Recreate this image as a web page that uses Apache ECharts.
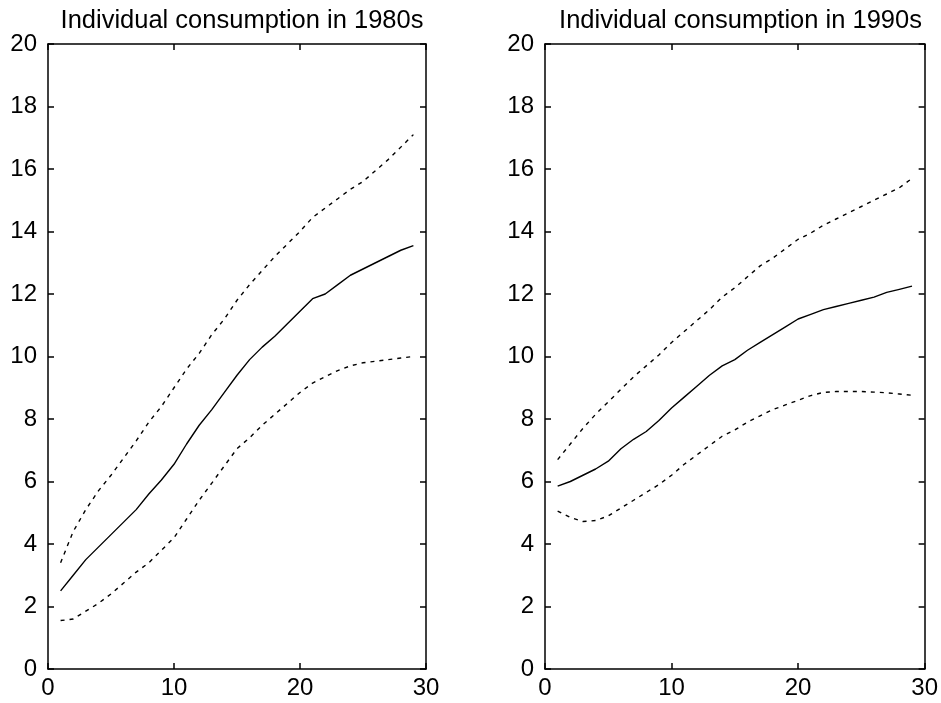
<!DOCTYPE html>
<html>
<head>
<meta charset="utf-8">
<script src="https://cdn.jsdelivr.net/npm/echarts@6/dist/echarts.min.js"></script>
<style>
html,body{margin:0;padding:0;background:#fff;}
#chart{width:941px;height:703px;}
</style>
</head>
<body>
<div id="chart"></div>
<script>
var titles = ['Individual consumption in 1980s', 'Individual consumption in 1990s'];
var xTicks = [0, 10, 20, 30];
var yTicks = [0, 2, 4, 6, 8, 10, 12, 14, 16, 18, 20];
var periods = [1,2,3,4,5,6,7,8,9,10,11,12,13,14,15,16,17,18,19,20,21,22,23,24,25,26,27,28,29];

var mid80 = [2.5,3.0,3.5,3.9,4.3,4.7,5.1,5.6,6.05,6.55,7.2,7.8,8.3,8.85,9.4,9.9,10.3,10.65,11.05,11.45,11.85,12.0,12.3,12.6,12.8,13.0,13.2,13.4,13.55];
var up80  = [3.4,4.4,5.1,5.7,6.2,6.75,7.3,7.9,8.4,9.0,9.6,10.1,10.7,11.2,11.8,12.3,12.75,13.2,13.6,14.0,14.45,14.75,15.05,15.35,15.6,15.95,16.3,16.7,17.1];
var low80 = [1.55,1.6,1.85,2.1,2.4,2.75,3.1,3.4,3.8,4.2,4.8,5.4,5.95,6.5,7.05,7.4,7.8,8.15,8.5,8.85,9.15,9.35,9.55,9.7,9.8,9.85,9.9,9.95,10.0];

var mid90 = [5.85,6.0,6.2,6.4,6.65,7.05,7.35,7.6,7.95,8.35,8.7,9.05,9.4,9.7,9.9,10.2,10.45,10.7,10.95,11.2,11.35,11.5,11.6,11.7,11.8,11.9,12.05,12.15,12.25];
var up90  = [6.7,7.2,7.7,8.15,8.55,8.95,9.35,9.7,10.05,10.45,10.8,11.15,11.5,11.9,12.2,12.55,12.9,13.15,13.45,13.75,13.95,14.2,14.4,14.6,14.8,15.0,15.2,15.4,15.7];
var low90 = [5.05,4.85,4.72,4.75,4.9,5.15,5.4,5.65,5.9,6.2,6.55,6.85,7.15,7.45,7.65,7.9,8.1,8.3,8.45,8.6,8.75,8.85,8.88,8.88,8.88,8.86,8.84,8.8,8.76];

var panels = [[mid80, up80, low80], [mid90, up90, low90]];

var FONT = 'Liberation Sans, Arial, sans-serif';
var AX = '#000';
var grids = [
  {left: 48, right: 515, top: 44, bottom: 34},
  {left: 545, right: 15, top: 44, bottom: 34}
];

function pairs(vals){ return periods.map(function(p,i){ return [p, vals[i]]; }); }

var xAxes = [], yAxes = [], series = [], titleArr = [];
grids.forEach(function(g, gi){
  var xMin = xTicks[0], xMax = xTicks[xTicks.length-1], xInt = xTicks[1]-xTicks[0];
  var yMin = yTicks[0], yMax = yTicks[yTicks.length-1], yInt = yTicks[1]-yTicks[0];
  var base = {
    type: 'value', gridIndex: gi,
    axisLine: {show: true, onZero: false, lineStyle: {color: AX, width: 1.5}},
    axisTick: {show: true, inside: true, length: 6, lineStyle: {color: AX, width: 1.5}},
    splitLine: {show: false}
  };
  xAxes.push(Object.assign({}, base, {position: 'bottom', min: xMin, max: xMax, interval: xInt,
    axisLabel: {show: true, color: '#000', fontSize: 24, fontFamily: FONT, margin: 7}}));
  xAxes.push(Object.assign({}, base, {position: 'top', min: xMin, max: xMax, interval: xInt,
    axisLabel: {show: false}}));
  yAxes.push(Object.assign({}, base, {position: 'left', min: yMin, max: yMax, interval: yInt,
    axisLabel: {show: true, color: '#000', fontSize: 24, fontFamily: FONT, margin: 11}}));
  yAxes.push(Object.assign({}, base, {position: 'right', min: yMin, max: yMax, interval: yInt,
    axisLabel: {show: false}}));
  var p = panels[gi];
  var styles = ['solid', [4,5], [4,5]];
  p.forEach(function(vals, si){
    series.push({
      type: 'line', xAxisIndex: gi*2, yAxisIndex: gi*2, data: pairs(vals),
      symbol: 'none', smooth: false, silent: true,
      lineStyle: {color: '#000', width: 1.4, type: styles[si]}
    });
  });
  var w = 941 - g.left - g.right;
  titleArr.push({
    text: titles[gi], left: g.left + w/2, top: 3, textAlign: 'center',
    textStyle: {color: '#000', fontSize: 25.5, fontWeight: 'normal', fontFamily: FONT}
  });
});

var chart = echarts.init(document.getElementById('chart'));
chart.setOption({
  animation: false,
  backgroundColor: '#fff',
  title: titleArr,
  grid: grids,
  xAxis: xAxes,
  yAxis: yAxes,
  series: series
});
</script>
</body>
</html>
